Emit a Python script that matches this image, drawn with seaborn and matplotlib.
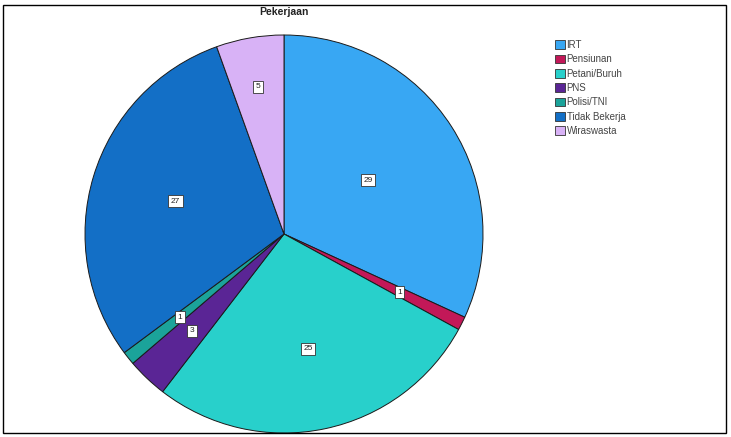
import matplotlib
matplotlib.use("Agg")
import matplotlib.pyplot as plt
from matplotlib.patches import Rectangle, Patch
import numpy as np
import seaborn as sns

# Job categories and respondent counts
categories = ["IRT", "Pensiunan", "Petani/Buruh", "PNS", "Polisi/TNI", "Tidak Bekerja", "Wiraswasta"]
counts = [29, 1, 25, 3, 1, 27, 5]
colors = ["#38A7F3", "#C21858", "#28D0CB", "#5A2595", "#1BA39A", "#136FC6", "#D8B2F6"]
title = "Pekerjaan"

# radial position of each value box (fraction of radius)
label_radius = [0.50, 0.65, 0.59, 0.67, 0.67, 0.57, 0.75]

sns.set_theme(style="white")
plt.rcParams["font.family"] = ["Arial", "Liberation Sans", "DejaVu Sans"]

fig = plt.figure(figsize=(7.31, 4.37), dpi=100)
fig.patch.set_facecolor("white")

# outer frame
fig.add_artist(Rectangle((3 / 731, 4 / 437), 723 / 731, 428 / 437,
                         transform=fig.transFigure, fill=False,
                         edgecolor="black", linewidth=1.0))

ax = fig.add_axes([85 / 731, 4 / 437, 398 / 731, 398 / 437])
wedges, _ = ax.pie(counts, colors=sns.color_palette(colors), startangle=90,
                   counterclock=False, radius=1.0,
                   wedgeprops=dict(edgecolor="#1a1a1a", linewidth=0.7))
ax.set_xlim(-1.0, 1.0)
ax.set_ylim(-1.0, 1.0)
ax.set_aspect("auto")
ax.axis("off")

for w, n, r in zip(wedges, counts, label_radius):
    mid = np.deg2rad((w.theta1 + w.theta2) / 2)
    ax.text(r * np.cos(mid), r * np.sin(mid), str(n), ha="center", va="center",
            fontsize=6, color="#222222",
            bbox=dict(boxstyle="square,pad=0.3", facecolor="white",
                      edgecolor="#333333", linewidth=0.6))

fig.text(284 / 731, 1 - 12 / 437, title, ha="center", va="center",
         fontsize=7.5, fontweight="bold", color="#222222")

handles = [Patch(facecolor=c, edgecolor="#333333", linewidth=0.6) for c in colors]
leg = fig.legend(handles, categories, loc="upper left",
                 bbox_to_anchor=(551 / 731, 1 - 36 / 437),
                 frameon=False, fontsize=7, handlelength=1.0, handleheight=1.0,
                 handletextpad=0.2, labelspacing=0.45, borderaxespad=0.0)
for t in leg.get_texts():
    t.set_color("#444444")

fig.savefig("out.png", dpi=100)
